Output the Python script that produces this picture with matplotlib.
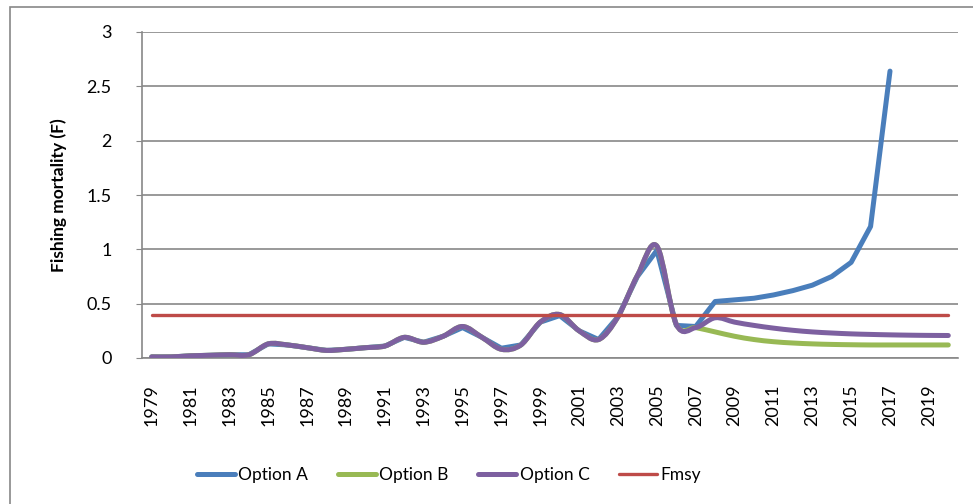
import matplotlib
matplotlib.use("Agg")
import matplotlib.pyplot as plt
from matplotlib.path import Path
from matplotlib.patches import PathPatch, Rectangle
from matplotlib.lines import Line2D
import numpy as np

plt.rcParams['font.family'] = ['Lato', 'DejaVu Sans']

years = list(range(1979, 2021))

# Option A stops at 2017
option_a = [0.01, 0.01, 0.02, 0.025, 0.03, 0.03, 0.13, 0.12, 0.095, 0.07, 0.08, 0.095,
            0.11, 0.19, 0.145, 0.2, 0.28, 0.19, 0.09, 0.12, 0.33, 0.39, 0.25, 0.17,
            0.38, 0.75, 0.99, 0.3, 0.29, 0.52, 0.535, 0.55, 0.58, 0.62, 0.67, 0.75,
            0.88, 1.21, 2.64]
option_b = [0.01, 0.01, 0.02, 0.025, 0.03, 0.03, 0.13, 0.12, 0.095, 0.07, 0.08, 0.095,
            0.11, 0.19, 0.145, 0.2, 0.29, 0.19, 0.08, 0.12, 0.33, 0.4, 0.25, 0.17,
            0.38, 0.76, 1.03, 0.31, 0.28, 0.24, 0.2, 0.17, 0.15, 0.138, 0.13, 0.125,
            0.122, 0.12, 0.12, 0.12, 0.12, 0.12]
option_c = [0.01, 0.01, 0.02, 0.025, 0.03, 0.03, 0.13, 0.12, 0.095, 0.07, 0.08, 0.095,
            0.11, 0.19, 0.145, 0.2, 0.29, 0.19, 0.08, 0.12, 0.33, 0.4, 0.25, 0.17,
            0.38, 0.76, 1.03, 0.31, 0.28, 0.37, 0.33, 0.3, 0.275, 0.255, 0.24, 0.23,
            0.222, 0.217, 0.213, 0.21, 0.208, 0.207]
fmsy = [0.4] * len(years)

blue = '#4A7EBB'
green = '#98B954'
purple = '#7D60A0'
red = '#BE4B48'


def smooth_path(x, y):
    # Excel-style smoothed line as cubic bezier through the points
    pts = np.column_stack([x, y])
    verts = [pts[0]]
    codes = [Path.MOVETO]
    n = len(pts)
    for i in range(n - 1):
        p0 = pts[max(i - 1, 0)]
        p1 = pts[i]
        p2 = pts[i + 1]
        p3 = pts[min(i + 2, n - 1)]
        c1 = p1 + (p2 - p0) / 6.0
        c2 = p2 - (p3 - p1) / 6.0
        verts += [c1, c2, p2]
        codes += [Path.CURVE4] * 3
    return Path(verts, codes)


fig = plt.figure(figsize=(9.73, 5.04), dpi=100)
fig.patches.append(Rectangle((10 / 973, -0.1), 1.2, 1 - 7 / 504 + 0.1, transform=fig.transFigure,
                             fill=False, edgecolor='#888888', linewidth=1.2))
ax = fig.add_axes([142 / 973, 146 / 504, 816 / 973, 326 / 504])

idx = np.arange(len(years))
ax.plot(idx[:len(option_a)], option_a, color=blue, linewidth=3.6, solid_capstyle='round',
        solid_joinstyle='round', label='Option A', zorder=3)
ax.add_patch(PathPatch(smooth_path(idx, option_b), fill=False, edgecolor=green, linewidth=3.6,
                       capstyle='round', joinstyle='round', zorder=4))
ax.add_patch(PathPatch(smooth_path(idx, option_c), fill=False, edgecolor=purple, linewidth=3.6,
                       capstyle='round', joinstyle='round', zorder=5))
ax.plot(idx, fmsy, color=red, linewidth=2.4, solid_capstyle='round', zorder=6)

ax.set_xlim(-0.5, len(years) - 0.5)
ax.set_ylim(0, 3)
ax.set_yticks([0, 0.5, 1, 1.5, 2, 2.5, 3])
ax.set_yticklabels(['0', '0.5', '1', '1.5', '2', '2.5', '3'])
ax.set_xticks(idx[::2])
ax.set_xticklabels([str(y) for y in years[::2]], rotation=90)
ax.tick_params(axis='x', length=0, pad=19, labelsize=13)
ax.tick_params(axis='y', length=4, color='#888888', pad=18, labelsize=13)
ax.grid(axis='y', color='#888888', linewidth=1.2)
ax.set_axisbelow(True)
for s in ['top', 'right']:
    ax.spines[s].set_visible(False)
for s in ['left', 'bottom']:
    ax.spines[s].set_color('#888888')
    ax.spines[s].set_linewidth(1.2)
ax.set_ylabel('Fishing mortality (F)', fontsize=12.5, fontweight='bold', labelpad=14)

handles = [Line2D([], [], color=blue, linewidth=3.6, solid_capstyle='round'),
           Line2D([], [], color=green, linewidth=3.6, solid_capstyle='round'),
           Line2D([], [], color=purple, linewidth=3.6, solid_capstyle='round'),
           Line2D([], [], color=red, linewidth=2.4, solid_capstyle='round')]
fig.legend(handles, ['Option A', 'Option B', 'Option C', 'Fmsy'], loc='center',
           bbox_to_anchor=(449 / 973, 1 - 475 / 504), ncol=4, frameon=False, fontsize=12.5,
           handlelength=2.2, handletextpad=0.2, columnspacing=1.7)

fig.savefig('out.png', dpi=100)
